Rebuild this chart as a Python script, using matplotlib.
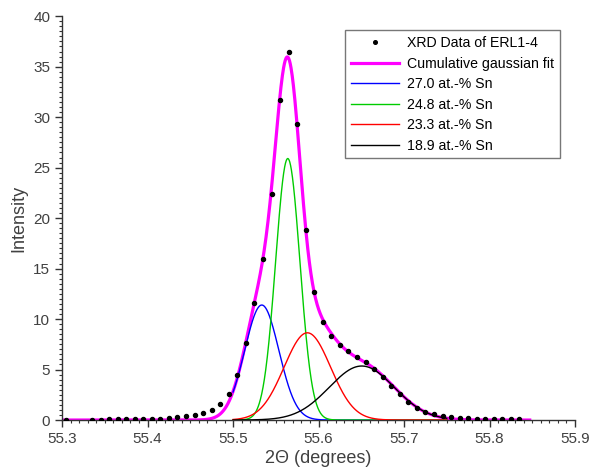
import numpy as np
import matplotlib
matplotlib.use("Agg")
import matplotlib.pyplot as plt
from matplotlib.ticker import MultipleLocator

plt.rcParams['font.family'] = ['Liberation Sans', 'DejaVu Sans']

# measured XRD points (2theta, intensity)
two_theta = [55.305, 55.335, 55.345, 55.355, 55.365, 55.375, 55.385, 55.395,
             55.405, 55.415, 55.425, 55.435, 55.445, 55.455, 55.465, 55.475,
             55.485, 55.495, 55.505, 55.515, 55.525, 55.535, 55.545, 55.555,
             55.565, 55.575, 55.585, 55.595, 55.605, 55.615, 55.625, 55.635,
             55.645, 55.655, 55.665, 55.675, 55.685, 55.695, 55.705, 55.715,
             55.725, 55.735, 55.745, 55.755, 55.765, 55.775, 55.785, 55.795,
             55.805, 55.815, 55.825, 55.835]
intensity = [0.05, 0.05, 0.05, 0.06, 0.07, 0.08, 0.09, 0.10,
             0.12, 0.14, 0.18, 0.28, 0.35, 0.46, 0.66, 0.99,
             1.55, 2.54, 4.46, 7.59, 11.55, 15.9, 22.4, 31.7,
             36.5, 29.3, 18.8, 12.7, 9.75, 8.3, 7.42, 6.8,
             6.27, 5.74, 5.08, 4.26, 3.4, 2.6, 1.78, 1.22,
             0.79, 0.56, 0.40, 0.30, 0.23, 0.17, 0.13, 0.12,
             0.11, 0.10, 0.10, 0.10]

# fitted gaussian components
comp_labels = ['27.0 at.-% Sn', '24.8 at.-% Sn', '23.3 at.-% Sn', '18.9 at.-% Sn']
comp_colors = ['#0000ff', '#00cc00', '#ff0000', '#000000']
comp_center = [55.5336, 55.5640, 55.5869, 55.6505]
comp_height = [11.39, 25.9, 8.64, 5.35]
comp_sigma = [0.0200, 0.0142, 0.0272, 0.0380]


def gauss(x, c, h, s):
    return h * np.exp(-(x - c) ** 2 / (2 * s ** 2))


fig = plt.figure(figsize=(5.91, 4.76), dpi=100)
ax = fig.add_axes([0.105, 0.1176, 0.868, 0.8484])

x_fit = np.linspace(55.30, 55.847, 1200)
total = np.zeros_like(x_fit)
for c, h, s in zip(comp_center, comp_height, comp_sigma):
    total += gauss(x_fit, c, h, s)

ax.plot(two_theta, intensity, 'o', color='black', markersize=2.9, zorder=5,
        label='XRD Data of ERL1-4')
ax.plot(x_fit, total, color='#ff00ff', lw=2.3, zorder=2,
        label='Cumulative gaussian fit')

x_comp = np.linspace(55.50, 55.75, 800)
for lab, col, c, h, s in zip(comp_labels, comp_colors, comp_center,
                             comp_height, comp_sigma):
    ax.plot(x_comp, gauss(x_comp, c, h, s), color=col, lw=1.0, zorder=3,
            label=lab)

ax.set_xlim(55.3, 55.9)
ax.set_ylim(0, 40)
ax.xaxis.set_major_locator(MultipleLocator(0.1))
ax.xaxis.set_minor_locator(MultipleLocator(0.01))
ax.yaxis.set_major_locator(MultipleLocator(5))
ax.yaxis.set_minor_locator(MultipleLocator(0.5))
ax.xaxis.set_major_formatter(matplotlib.ticker.FormatStrFormatter('%.1f'))

for side in ['top', 'right']:
    ax.spines[side].set_visible(False)
for side in ['left', 'bottom']:
    ax.spines[side].set_color('#333333')
    ax.spines[side].set_linewidth(1.0)

ax.tick_params(which='major', direction='out', length=5, width=1.0,
               color='#333333', labelsize=11, labelcolor='#404040')
ax.tick_params(which='minor', direction='out', length=2.5, width=0.8,
               color='#333333')

ax.set_xlabel('2\u0398 (degrees)', fontsize=13, color='#404040', labelpad=3)
ax.set_ylabel('Intensity', fontsize=13, color='#404040', labelpad=4)

leg = ax.legend(loc='upper right', bbox_to_anchor=(0.971, 0.965),
                borderaxespad=0, fontsize=10.2, frameon=True, fancybox=False,
                handlelength=3.4, handletextpad=0.6, borderpad=0.4,
                labelspacing=0.46, markerscale=0.9)
leg.get_frame().set_edgecolor('#555555')
leg.get_frame().set_linewidth(1.0)

fig.savefig('out.png', dpi=100)
